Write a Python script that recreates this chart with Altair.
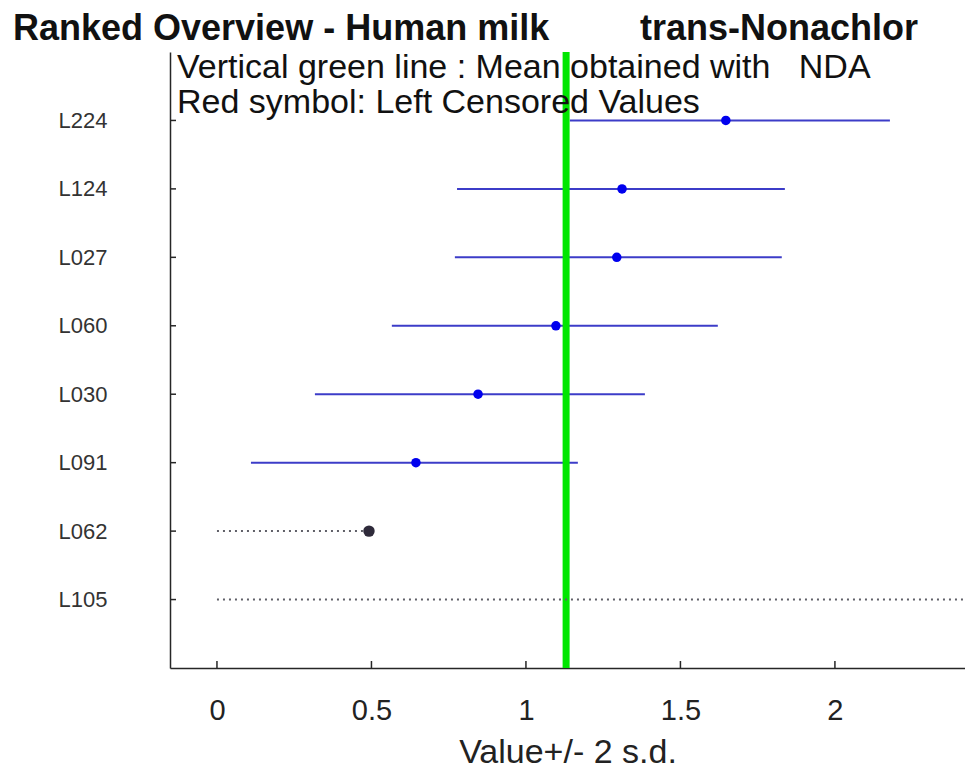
import altair as alt
import pandas as pd

# ---- data ----
labs = ["L224", "L124", "L027", "L060", "L030", "L091", "L062", "L105"]
ok_labs = ["L224", "L124", "L027", "L060", "L030", "L091"]
ok_values = [1.647, 1.311, 1.294, 1.097, 0.845, 0.644]
ok_low = [1.142, 0.777, 0.770, 0.566, 0.317, 0.110]
ok_high = [2.178, 1.838, 1.828, 1.621, 1.385, 1.168]

cens_labs = ["L062", "L105"]
cens_values = [0.492, 2.60]
cens_from = [0.0, 0.0]

mean_nda = 1.13
x_ticks = [0, 0.5, 1, 1.5, 2]
x_domain = [-0.152, 2.421]

title_left = "Ranked Overview - Human milk"
title_right = "trans-Nonachlor"
note_lines = ["Vertical green line : Mean obtained with\u00a0\u00a0\u00a0NDA",
              "Red symbol: Left Censored Values"]

FONT = "Liberation Sans"
W, H = 795, 616

ok_df = pd.DataFrame({"lab": ok_labs, "val": ok_values, "lo": ok_low, "hi": ok_high})
cens_df = pd.DataFrame({"lab": cens_labs, "val": cens_values, "lo": cens_from})
tick_df = pd.DataFrame({"t": x_ticks})
lab_df = pd.DataFrame({"lab": labs})
mean_df = pd.DataFrame({"m": [mean_nda]})

xscale = alt.Scale(domain=x_domain, nice=False, zero=False)
yscale = alt.Scale(type="point", padding=1, domain=labs)

x_axis = alt.Axis(values=x_ticks, title="Value+/- 2 s.d.", grid=False, ticks=False, tickSize=0,
                  labelFontSize=29, labelFont=FONT, labelColor="#222222", labelPadding=28,
                  titleFontSize=34, titleFont=FONT, titleFontWeight="normal", titleColor="#222222",
                  titleY=67, titleBaseline="top",
                  domainColor="#262626", domainWidth=1.5, labelFlush=False, format="~g")
y_axis = alt.Axis(title=None, grid=False, ticks=False, tickSize=0, labelAlign="left",
                  labelPadding=112, labelFontSize=22, labelFont=FONT, labelColor="#333333",
                  domainColor="#262626", domainWidth=1.5)

# error bars
bars = alt.Chart(ok_df).mark_rule(color="#3c3cc8", strokeWidth=2).encode(
    x=alt.X("lo:Q", scale=xscale, axis=x_axis), x2="hi:Q",
    y=alt.Y("lab:N", scale=yscale, sort=labs, axis=y_axis),
)
pts = alt.Chart(ok_df).mark_circle(color="#0000ee", opacity=1, size=90).encode(
    x=alt.X("val:Q", scale=xscale), y=alt.Y("lab:N", scale=yscale, sort=labs)
)
cens_line = alt.Chart(cens_df).mark_rule(color="#606068", strokeWidth=2, strokeDash=[2, 4], clip=True).encode(
    x=alt.X("lo:Q", scale=xscale), x2="val:Q", y=alt.Y("lab:N", scale=yscale, sort=labs)
)
cens_pt = alt.Chart(cens_df).mark_circle(color="#2e2a3a", opacity=1, size=130, clip=True).encode(
    x=alt.X("val:Q", scale=xscale), y=alt.Y("lab:N", scale=yscale, sort=labs)
)
mean_rule = alt.Chart(mean_df).mark_rule(color="#00e600", strokeWidth=7).encode(
    x=alt.X("m:Q", scale=xscale)
)
# inward tick marks
xt = alt.Chart(tick_df).mark_rule(color="#262626", strokeWidth=1.5).encode(
    x=alt.X("t:Q", scale=xscale), y=alt.value(H), y2=alt.value(H - 7)
)
yt = alt.Chart(lab_df).mark_rule(color="#262626", strokeWidth=1.5).encode(
    y=alt.Y("lab:N", scale=yscale, sort=labs), x=alt.value(0), x2=alt.value(6)
)
notes = alt.Chart(mean_df).mark_text(align="left", baseline="alphabetic", fontSize=34, font=FONT,
                                     color="#111111", lineHeight=35).encode(
    x=alt.value(7), y=alt.value(26), text=alt.value(note_lines)
)
left_title = alt.Chart(mean_df).mark_text(align="left", baseline="alphabetic", fontSize=36, font=FONT,
                                          fontWeight="bold", color="#111111").encode(
    x=alt.value(-157), y=alt.value(-12), text=alt.value(title_left)
)
right_title = alt.Chart(mean_df).mark_text(align="left", baseline="alphabetic", fontSize=36, font=FONT,
                                           fontWeight="bold", color="#111111").encode(
    x=alt.value(470), y=alt.value(-12), text=alt.value(title_right)
)

chart = alt.layer(bars, mean_rule, cens_line, pts, cens_pt, xt, yt, notes, left_title, right_title).properties(
    width=W, height=H,
    autosize=alt.AutoSizeParams(type="none"),
    padding={"left": 162, "top": 44, "right": 0, "bottom": 105},
    background="white",
).configure_view(stroke=None)

chart.save("out.html", embed_options={"renderer": "svg", "actions": False})
